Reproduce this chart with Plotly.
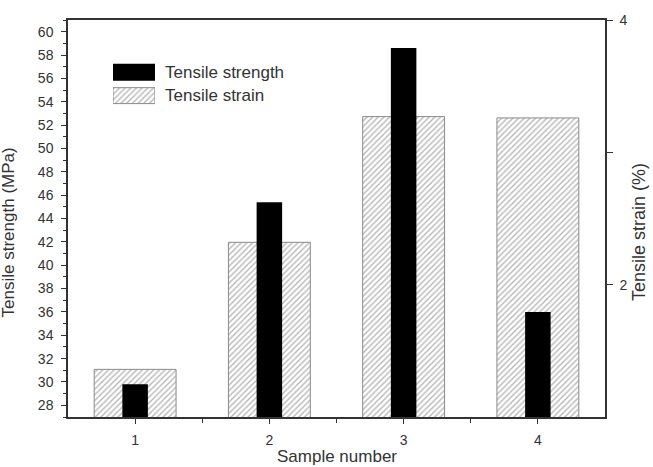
import plotly.graph_objects as go

samples = [1, 2, 3, 4]
sample_labels = ["1", "2", "3", "4"]
strength = [29.8, 45.4, 58.6, 36.0]   # MPa, left axis
strain = [1.36, 2.32, 3.27, 3.26]     # %, right axis
legend_names = ["Tensile strength", "Tensile strain"]

FONT = "Liberation Sans, Arial, sans-serif"
AX = "#333333"
HATCH = dict(shape="/", fgcolor="#707070", bgcolor="white", size=4, solidity=0.35)
HATCH_LINE = dict(color="#8a8a8a", width=1)

# plot area in pixels: x 68..605, y 18..417
fig = go.Figure()
# hatched strain bars on primary y (right side), drawn first
fig.add_trace(go.Bar(
    x=samples, y=strain, base=0, width=0.61, name=legend_names[1],
    marker=dict(color="white", pattern=HATCH, line=HATCH_LINE),
    yaxis="y", xaxis="x", showlegend=False,
))
# black strength bars on overlaying axis (left side), drawn on top
fig.add_trace(go.Bar(
    x=samples, y=strength, width=0.19, name=legend_names[0],
    marker=dict(color="black", line=dict(width=0)),
    yaxis="y2", xaxis="x", showlegend=False,
))
# legend swatches on a small auxiliary axis pair
fig.add_trace(go.Bar(
    x=[1], y=[1], base=0, orientation="h", width=0.72,
    marker=dict(color="black", line=dict(width=0)),
    xaxis="x3", yaxis="y3", showlegend=False, hoverinfo="skip",
))
fig.add_trace(go.Bar(
    x=[1], y=[0], base=0, orientation="h", width=0.68,
    marker=dict(color="white", pattern=HATCH, line=HATCH_LINE),
    xaxis="x3", yaxis="y3", showlegend=False, hoverinfo="skip",
))

fig.update_layout(
    width=653, height=467,
    margin=dict(l=68, r=48, t=18, b=50),
    plot_bgcolor="white", paper_bgcolor="white",
    barmode="overlay",
    font=dict(family=FONT, size=14, color=AX),
    showlegend=False,
    xaxis=dict(range=[0.5, 4.5], tickvals=samples, ticktext=sample_labels,
               ticks="outside", ticklen=5, tickwidth=1.2, tickcolor=AX,
               ticklabelstandoff=4,
               showline=True, linecolor=AX, linewidth=1.5, mirror=True,
               showgrid=False, zeroline=False,
               minor=dict(tickvals=[1.5, 2.5, 3.5], ticks="outside", ticklen=4, tickcolor=AX)),
    yaxis=dict(range=[1, 4], side="right", tickvals=[2, 4],
               ticks="outside", ticklen=6, tickwidth=1.2, tickcolor=AX,
               ticklabelstandoff=4,
               showline=True, linecolor=AX, linewidth=1.5,
               showgrid=False, zeroline=False,
               minor=dict(tickvals=[3], ticks="outside", ticklen=6, tickcolor=AX)),
    yaxis2=dict(range=[27, 61], overlaying="y", side="left", tick0=28, dtick=2,
                ticks="outside", ticklen=5, tickwidth=1.2, tickcolor=AX,
                ticklabelstandoff=5,
                showline=True, linecolor=AX, linewidth=1.5,
                showgrid=False, zeroline=False,
                minor=dict(dtick=1, ticks="outside", ticklen=3, tickcolor=AX)),
    xaxis3=dict(domain=[0.0838, 0.162], range=[0, 1], visible=False, fixedrange=True,
                anchor="y3"),
    yaxis3=dict(domain=[0.780, 0.898], range=[-0.5, 1.5], visible=False, fixedrange=True,
                anchor="x3"),
    annotations=[
        dict(text=legend_names[0], xref="paper", yref="paper", x=0.177, y=0.869,
             xanchor="left", yanchor="middle", showarrow=False, font=dict(size=17, color=AX)),
        dict(text=legend_names[1], xref="paper", yref="paper", x=0.177, y=0.810,
             xanchor="left", yanchor="middle", showarrow=False, font=dict(size=17, color=AX)),
        dict(text="Sample number", xref="paper", yref="paper", x=0.5, y=-0.100,
             xanchor="center", yanchor="middle", showarrow=False, font=dict(size=17, color=AX)),
        dict(text="Tensile strength (MPa)", xref="paper", yref="paper", x=-0.1117, y=0.465,
             xanchor="center", yanchor="middle", textangle=-90, showarrow=False,
             font=dict(size=17, color=AX)),
        dict(text="Tensile strain (%)", xref="paper", yref="paper", x=1.0633, y=0.466,
             xanchor="center", yanchor="middle", textangle=-90, showarrow=False,
             font=dict(size=18, color=AX)),
    ],
)

fig.write_html("out.html")
